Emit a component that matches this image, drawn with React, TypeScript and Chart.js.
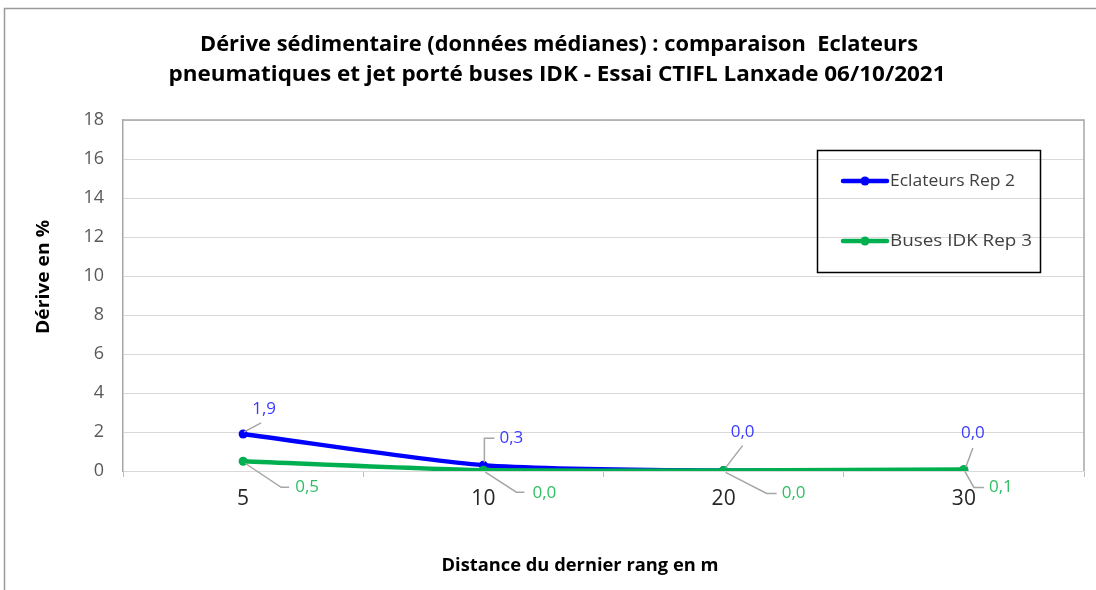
import React, { useEffect, useRef } from "react";
import { Chart, registerables } from "chart.js";

Chart.register(...registerables);

const categories = ["5", "10", "20", "30"];
const seriesNames = ["Eclateurs Rep 2", "Buses IDK Rep 3"];
const eclateurs = [1.9, 0.3, 0.02, 0.0];
const busesIDK = [0.5, 0.04, 0.03, 0.08];
const yTicks = [0, 2, 4, 6, 8, 10, 12, 14, 16, 18];
const titleLines = [
  "Dérive sédimentaire (données médianes) : comparaison  Eclateurs",
  "pneumatiques et jet porté buses IDK - Essai CTIFL Lanxade 06/10/2021",
];
const yTitle = "Dérive en %";
const xTitle = "Distance du dernier rang en m";

// styling: label placement offsets relative to each point (pixels)
const labelStyle = [
  {
    color: "#3b3bff",
    items: [
      { t: [21, -25], path: [[1, -2], [18, -11]] },
      { t: [28, -27], path: [[1, -3], [1, -27], [11, -27]] },
      { t: [19, -38], path: [[2, -3], [19, -25]] },
      { t: [9, -38], path: [[2, -4], [9, -23]] },
    ],
  },
  {
    color: "#2fbf63",
    items: [
      { t: [64, 26], path: [[2, 2], [38, 26], [46, 26]] },
      { t: [61, 23], path: [[2, 2], [33, 22], [41, 22]] },
      { t: [70, 23], path: [[2, 2], [43, 23], [53, 23]] },
      { t: [37, 18], path: [[1, 2], [10, 18], [20, 18]] },
    ],
  },
];

const FONT = "'Open Sans', 'Noto Sans', sans-serif";

function drawFitted(
  ctx: CanvasRenderingContext2D,
  text: string,
  x: number,
  y: number,
  font: string,
  color: string,
  width: number
) {
  ctx.save();
  ctx.font = font;
  ctx.fillStyle = color;
  ctx.textBaseline = "middle";
  ctx.textAlign = "center";
  const w = ctx.measureText(text).width;
  const sx = width / w;
  ctx.translate(x, y);
  ctx.scale(sx, 1);
  ctx.fillText(text, 0, 0);
  ctx.restore();
}

const decorPlugin = {
  id: "decor",
  beforeDraw(chart: any) {
    const ctx = chart.ctx as CanvasRenderingContext2D;
    ctx.save();
    ctx.fillStyle = "#ffffff";
    ctx.fillRect(0, 0, chart.width, chart.height);
    ctx.strokeStyle = "#9a9a9a";
    ctx.lineWidth = 1.5;
    ctx.strokeRect(4.5, 8.5, 1200, 700);
    ctx.restore();
  },
  beforeDatasetsDraw(chart: any) {
    const ctx = chart.ctx as CanvasRenderingContext2D;
    const a = chart.chartArea;
    ctx.save();
    ctx.strokeStyle = "#a6a6a6";
    ctx.lineWidth = 1.5;
    ctx.beginPath();
    ctx.moveTo(a.left, a.top);
    ctx.lineTo(a.right, a.top);
    ctx.lineTo(a.right, a.bottom);
    ctx.stroke();
    ctx.restore();
  },
  afterDraw(chart: any) {
    const ctx = chart.ctx as CanvasRenderingContext2D;
    // titles
    drawFitted(ctx, titleLines[0], 559, 45, `bold 21px ${FONT}`, "#000000", 718);
    drawFitted(ctx, titleLines[1], 557, 75, `bold 21px ${FONT}`, "#000000", 777);
    // x title
    drawFitted(ctx, xTitle, 580, 566, `bold 17px ${FONT}`, "#000000", 277);
    // y title
    ctx.save();
    ctx.translate(44, 277);
    ctx.rotate(-Math.PI / 2);
    drawFitted(ctx, yTitle, 0, 0, `bold 18px ${FONT}`, "#000000", 114);
    ctx.restore();

    // data labels
    const fmt = (v: number) => v.toFixed(1).replace(".", ",");
    chart.data.datasets.forEach((ds: any, i: number) => {
      const meta = chart.getDatasetMeta(i);
      const st = labelStyle[i];
      meta.data.forEach((pt: any, j: number) => {
        const it = st.items[j];
        ctx.save();
        ctx.strokeStyle = "#a6a6a6";
        ctx.lineWidth = 1.5;
        ctx.beginPath();
        it.path.forEach((p: number[], k: number) => {
          if (k === 0) ctx.moveTo(pt.x + p[0], pt.y + p[1]);
          else ctx.lineTo(pt.x + p[0], pt.y + p[1]);
        });
        ctx.stroke();
        ctx.font = `17px ${FONT}`;
        ctx.fillStyle = st.color;
        ctx.textAlign = "center";
        ctx.textBaseline = "middle";
        ctx.fillText(fmt(ds.data[j]), pt.x + it.t[0], pt.y + it.t[1]);
        ctx.restore();
      });
    });

    // legend
    ctx.save();
    ctx.strokeStyle = "#000000";
    ctx.lineWidth = 1.5;
    ctx.strokeRect(817.5, 150.5, 223, 122);
    const rows = [181, 241];
    chart.data.datasets.forEach((ds: any, i: number) => {
      const y = rows[i];
      ctx.strokeStyle = ds.borderColor;
      ctx.lineWidth = 4.5;
      ctx.lineCap = "round";
      ctx.beginPath();
      ctx.moveTo(843, y);
      ctx.lineTo(887, y);
      ctx.stroke();
      ctx.fillStyle = ds.borderColor;
      ctx.beginPath();
      ctx.arc(865, y, 4.5, 0, Math.PI * 2);
      ctx.fill();
      ctx.font = `16px ${FONT}`;
      ctx.fillStyle = "#404040";
      ctx.textAlign = "left";
      ctx.textBaseline = "middle";
      const w = ctx.measureText(ds.label).width;
      const target = i === 0 ? 125 : 142;
      ctx.save();
      ctx.translate(890, y);
      ctx.scale(target / w, 1);
      ctx.fillText(ds.label, 0, 0);
      ctx.restore();
    });
    ctx.restore();
  },
};

export default function App() {
  const ref = useRef<HTMLCanvasElement | null>(null);
  useEffect(() => {
    if (!ref.current) return;
    const chart = new Chart(ref.current, {
      type: "line",
      data: {
        labels: categories,
        datasets: [
          {
            label: seriesNames[0],
            data: eclateurs,
            borderColor: "#0000ff",
            backgroundColor: "#0000ff",
            borderWidth: 4.5,
            pointRadius: 4.5,
            pointBorderWidth: 0,
            tension: 0.25,
            order: 1,
          },
          {
            label: seriesNames[1],
            data: busesIDK,
            borderColor: "#00b050",
            backgroundColor: "#00b050",
            borderWidth: 4.5,
            pointRadius: 4.5,
            pointBorderWidth: 0,
            tension: 0.25,
            order: 0,
          },
        ],
      },
      options: {
        animation: false,
        responsive: false,
        layout: { padding: { top: 120, right: 12, left: 0, bottom: 0 } },
        plugins: {
          legend: { display: false },
          title: { display: false },
          tooltip: { enabled: false },
        },
        scales: {
          x: {
            type: "category",
            offset: true,
            grid: {
              offset: true,
              drawOnChartArea: false,
              drawTicks: true,
              tickLength: 6,
              color: "#bfbfbf",
            },
            border: { display: true, color: "#d9d9d9", width: 1 },
            ticks: {
              font: { family: FONT, size: 21 },
              color: "#262626",
              padding: 9,
              maxRotation: 0,
            },
            afterFit: (s: any) => {
              s.height = 119;
            },
          },
          y: {
            min: 0,
            max: 18,
            afterBuildTicks: (s: any) => {
              s.ticks = yTicks.map((v) => ({ value: v }));
            },
            grid: { color: "#d9d9d9", drawTicks: false, lineWidth: 1 },
            border: { display: true, color: "#a6a6a6", width: 1.5 },
            ticks: {
              font: { family: FONT, size: 18 },
              color: "#595959",
              padding: 19,
            },
            afterFit: (s: any) => {
              s.width = 123;
            },
          },
        },
      },
      plugins: [decorPlugin],
    });
    return () => chart.destroy();
  }, []);
  return (
    <div style={{ position: "absolute", left: 0, top: 0, width: 1096, height: 590 }}>
      <canvas ref={ref} width={1096} height={590} />
    </div>
  );
}
